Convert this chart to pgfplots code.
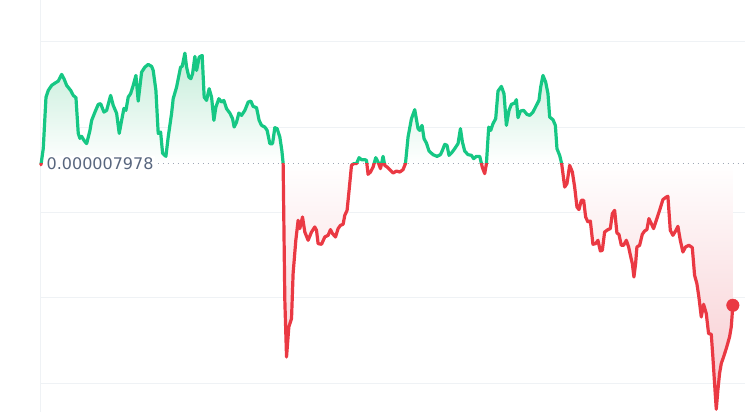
\documentclass[border=0pt]{standalone}
\usepackage{pgfplots}
\pgfplotsset{compat=1.18}
\usepackage{pgfplotstable}
\usepackage{fontspec}
\setmainfont{DejaVu Sans}
\definecolor{upgreen}{RGB}{22,199,132}
\definecolor{downred}{RGB}{234,57,67}
\definecolor{gridgray}{RGB}{239,242,245}
\definecolor{labelgray}{RGB}{88,102,126}
\definecolor{dotgray}{RGB}{160,168,182}
\definecolor{greenfill}{RGB}{196,237,217}
\definecolor{redfill}{RGB}{247,200,205}

\pgfplotstableread{
x y
41 -1.5
43.3 15
46 66
48.3 73
51.7 78
55 80.3
58.3 82.3
61.7 89
64 84.7
66.7 78
70.7 73
73.3 68
76 65.7
78.3 30
80 25
81.7 27
84 23
86.7 19.7
90 33
91.7 43
95 51.3
98.3 59
100.7 59.7
104 51.3
106.7 53
110.7 68
113.3 58
116.7 50
119.3 30
121.7 43
124 55
126 53
128.3 66.3
130.7 69.7
133.3 78
136 88
138.3 62.3
141.7 91.3
145 96.3
148.3 99
151.7 97
153.3 93
156 73
158.3 30
160.7 31.3
162.7 10
166 7
168.3 26.3
171.7 50
173.3 64.7
176.7 76.3
180.7 96.3
182.3 97
185 110.3
186.7 96.3
189 86.3
191 84.7
192.7 89.7
195 107
196.7 93
199.3 106.3
202.3 108
204.3 66.3
206.7 63
209.3 74.7
211.7 66.3
214 43
216 56.3
219 64.7
221.7 61.3
224 63
226.7 54.7
230 50.3
232.7 44.7
234.3 36.3
236.7 41.3
239 50.3
241.7 48
245 53
248.3 61.3
251 62.3
253.3 57
256.7 55.7
259.3 43
261.7 38
265 36.3
267.3 33
270 19.7
272.7 19.7
275 35.7
277.3 34.7
280 26.3
282 13
283.3 0
285 -137
286.7 -193.7
289 -163.7
291.7 -155.3
293.3 -110
296 -77
298.3 -57
300 -65.3
302.7 -53.7
305 -68.7
308.3 -77
311.7 -68.7
315 -63.7
316.7 -67
318.3 -80.3
321.7 -81
325 -73.7
328.3 -72
330.7 -66.3
332.7 -70.3
335.7 -73.7
338.3 -65.3
340.7 -62
343.3 -61
345 -52
347.3 -47
349.3 -27
351.7 -2
354 -0.3
356.7 -0.3
359.3 5.7
361.7 3.7
365 3.7
366.7 3
368.3 -11
370.7 -8.7
373.3 -3.7
376 5.7
378.3 1.3
380.7 -5.3
383.3 7
385 -2
387.3 -3.7
390 -6.3
393.3 -9.7
396.7 -7.7
400 -8.7
403.3 -6.3
405.7 -0.3
408.3 26.3
411.7 44.7
415 53.7
418.3 34.7
420 33
422.3 38
424.3 24.7
426.7 20.3
429.3 12.3
433.3 8.7
437.3 7
440.7 8.7
442.7 13
445 19
447.3 18
449.3 8
451.7 10.3
455 14.7
458.3 19.7
460.7 34.7
462.7 21.3
465 12.3
468.3 8.7
471.7 8
474 4.7
476.7 7
480 7
482.7 -4.3
485 -10.3
486.7 -0.3
489 36.3
491 33
493.3 39.7
496 44.7
498.3 72.3
501.7 77
504.3 69.7
506.7 38
509.3 53
511.7 59
515 60.3
516.7 63.7
518.3 45.7
520.7 52.3
524 53
527.3 49
530 48
533.3 51.3
536.7 58
539.3 63
541 76.3
543.3 88
546 81.3
548.3 69.7
550 46.3
553.3 43.7
555.7 38
557.3 14.7
560 8
562 -0.3
565 -23.7
567.3 -20.3
570 -2
572.7 -8.7
575 -23.7
577.3 -43.7
579.3 -46.3
581.7 -37
584 -37
586 -53.7
588.3 -58.7
590.7 -57.7
593.3 -81
596 -80.3
598.3 -77
600.7 -87.7
602.7 -87
605 -68.7
608.3 -66.3
610.7 -65.3
612.7 -50.3
615 -47
617.3 -69.7
619.3 -71
621.7 -82
624 -82
626.7 -77
629 -83.7
631 -93
632.7 -100.3
634.3 -113.7
636 -100.3
637.3 -83.7
640 -82
642.7 -71
645 -67.7
647.3 -66.3
649.3 -55.3
651.7 -60.3
654 -65.3
656.7 -57
660 -47
663.3 -36.3
666.7 -33.7
668.3 -33
670.7 -67
673.3 -72
676 -67.7
678.3 -63
680.7 -77
683.3 -88.7
686 -83.7
689.3 -82
692.7 -84.3
695 -112
697.3 -120.3
699.3 -133.7
701.7 -153.7
704 -141
706.7 -150.3
709 -170.3
711.7 -171
713.3 -193.7
715 -220.3
716.7 -246
718.3 -227
720 -210.3
721.7 -200.3
724 -193.7
726.7 -185.3
730 -173.7
731.7 -163.7
733.3 -142
}\pricedata

\pgfplotstableread{
x y
733.3 -142
}\lastdata

\begin{document}
\begin{tikzpicture}
\begin{axis}[
  width=745pt, height=412pt, scale only axis,
  xmin=0, xmax=745, ymin=-249, ymax=163,
  axis line style={draw=none},
  xtick=\empty, ytick=\empty,
  clip=false,
]
% grid
\draw[gridgray, line width=0.9pt] (axis cs:40,121.5) -- (axis cs:745,121.5);
\draw[gridgray, line width=0.9pt] (axis cs:40,35.8) -- (axis cs:745,35.8);
\draw[gridgray, line width=0.9pt] (axis cs:40,-49.4) -- (axis cs:745,-49.4);
\draw[gridgray, line width=0.9pt] (axis cs:40,-134.4) -- (axis cs:745,-134.4);
\draw[gridgray, line width=0.9pt] (axis cs:40,-220) -- (axis cs:745,-220);
\draw[gridgray, line width=0.9pt] (axis cs:40,163) -- (axis cs:40,-249);

% area fills
\addplot[draw=none, top color=greenfill, bottom color=white, y filter/.expression={max(y,0)}] table {\pricedata} \closedcycle;
\addplot[draw=none, top color=white, bottom color=redfill, y filter/.expression={min(y,0)}] table {\pricedata} \closedcycle;

\draw[dotgray, line width=0.9pt, dash pattern=on 0.9pt off 4.1pt] (axis cs:158,0) -- (axis cs:745,0);

\begin{scope}
\clip (axis cs:0,0) rectangle (axis cs:745,163);
\addplot[upgreen, line width=3.2pt, line join=round, line cap=round] table {\pricedata};
\end{scope}
\begin{scope}
\clip (axis cs:0,-249) rectangle (axis cs:745,0);
\addplot[downred, line width=3.2pt, line join=round, line cap=round] table {\pricedata};
\end{scope}

\addplot[only marks, mark=*, mark size=6.3pt, downred, mark options={draw=downred, fill=downred}] table {\lastdata};

\node[anchor=west, fill=white, inner xsep=1.5pt, inner ysep=2pt, text=labelgray, font=\fontsize{16}{19}\selectfont] at (axis cs:45,-0.5) {0.000007978};
\end{axis}
\end{tikzpicture}
\end{document}
